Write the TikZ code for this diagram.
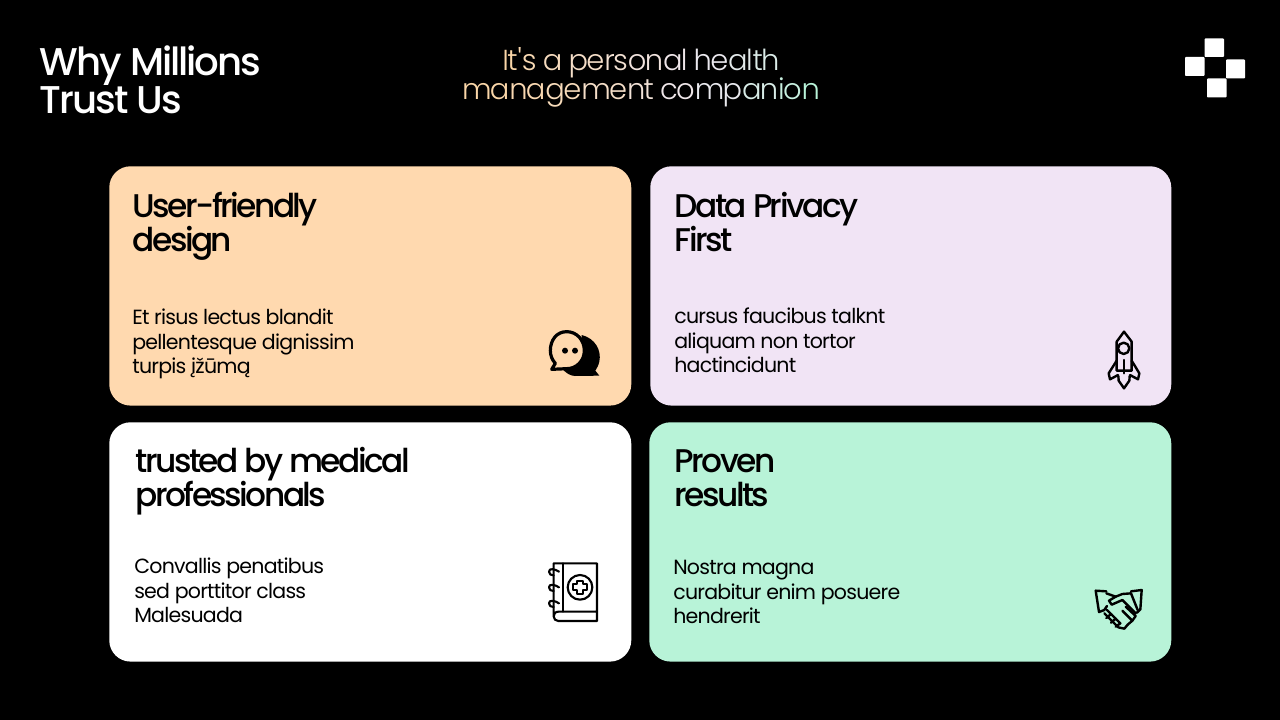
\documentclass[tikz,border=0pt]{standalone}
\usepackage{fontspec}
\setmainfont{Poppins}[LetterSpace=-3.7]
\newfontfamily\lightfont{Poppins Light}[LetterSpace=-6]
\newfontfamily\medfont{Poppins Medium}[LetterSpace=-7.8]
\newfontfamily\titlefont{Poppins Medium}[LetterSpace=-5.2]
\lineskiplimit=-30pt\relax
\normallineskiplimit=-30pt\relax
\definecolor{gtan}{HTML}{FAD6A8}
\definecolor{gmid}{HTML}{EEE8F0}
\definecolor{gmint}{HTML}{B8F3D9}
\definecolor{cardorange}{HTML}{FFD9AF}
\definecolor{cardlilac}{HTML}{F1E4F5}
\definecolor{cardmint}{HTML}{B8F3D8}
\newcommand{\ga}[2]{\textcolor{gmid!#1!gtan}{#2}}
\newcommand{\gb}[2]{\textcolor{gmint!#1!gmid}{#2}}
\tikzset{
  card/.style={draw=none,rounded corners=16,inner sep=0pt,anchor=north west},
  maintitle/.style={anchor=north west,inner sep=0pt,align=left,text=white,font=\titlefont\fontsize{29}{28.5}\selectfont},
  subtitle/.style={anchor=north,inner sep=0pt,align=center,font=\lightfont\fontsize{21.7}{21.9}\selectfont},
  cardhead/.style={anchor=north west,inner sep=0pt,align=left,text=black,font=\medfont\fontsize{24.6}{25.5}\selectfont},
  cardbody/.style={anchor=north west,inner sep=0pt,align=left,text=black,font=\fontsize{15.4}{18.5}\selectfont},
  icon/.style={draw=black,line width=1.8pt,line join=round,line cap=round},
  logopart/.style={fill=white,rounded corners=0.6}
}
\begin{document}
\begin{tikzpicture}[x=0.75pt,y=-0.75pt]
\useasboundingbox (0,0) rectangle (1280,720);
\fill[black] (0,0) rectangle (1280,720);
% cards
\node[card,fill=cardorange,minimum width=391.5pt,minimum height=179.5pt] (cardA) at (109,166) {};
\node[card,fill=cardlilac,minimum width=390.75pt,minimum height=179.5pt] (cardB) at (650,166) {};
\node[card,fill=white,minimum width=391.5pt,minimum height=179.5pt] (cardC) at (109,422) {};
\node[card,fill=cardmint,minimum width=391.5pt,minimum height=179.5pt] (cardD) at (649,422) {};
% titles
\node[maintitle] (title) at (39.5,45) {Why Millions\\Trust Us};
\node[subtitle] (sub) at (641,47.5) {\ga{0}{It}\ga{8}{'}\ga{15}{s} \ga{30}{a} \ga{45}{pe}\ga{60}{rs}\ga{75}{on}\ga{90}{al} \gb{5}{he}\gb{20}{al}\gb{35}{th}\\
\ga{0}{ma}\ga{12}{na}\ga{25}{ge}\ga{45}{me}\ga{65}{nt} \ga{90}{co}\gb{10}{mp}\gb{40}{an}\gb{70}{io}\gb{100}{n}};
% card text
\node[cardhead] (headA) at (132.5,192) {User-friendly\\design};
\node[cardbody] (bodyA) at (132,308.5) {Et risus lectus blandit\\pellentesque dignissim\\turpis įžūmą};
\node[cardhead] (headB) at (674.5,192) {Data Privacy\\First};
\node[cardbody] (bodyB) at (674,307.5) {cursus faucibus talknt\\aliquam non tortor\\hactincidunt};
\node[cardhead] (headC) at (135.5,447) {trusted by medical\\professionals};
\node[cardbody] (bodyC) at (134,557.5) {Convallis penatibus\\sed porttitor class\\Malesuada};
\node[cardhead] (headD) at (674.5,449) {Proven\\results};
\node[cardbody] (bodyD) at (673,560) {Nostra magna\\curabitur enim posuere\\hendrerit};
% logo
\fill[logopart] (1204.5,38.5) rectangle (1224,57);
\fill[logopart] (1185,57) rectangle (1204.5,76);
\fill[logopart] (1226,59.5) rectangle (1245,78.5);
\fill[logopart] (1207,78.5) rectangle (1226.5,97.5);
% chat icon
\begin{scope}[shift={(520,310)},x=0.25pt,y=-0.25pt]
\fill[black] (185,75) .. controls (225,85) and (245,120) .. (238,155) .. controls (235,168) and (230,175) .. (226,182) -- (238,197) -- (165,198) .. controls (150,197) and (140,190) .. (130,180) -- (180,150) -- cycle;
\fill[cardorange,draw=black,line width=2.4pt,line join=round] (140,65) .. controls (170,65) and (193,90) .. (193,122) .. controls (193,152) and (170,176) .. (140,176) -- (95,178) -- (106,160) .. controls (96,150) and (91,135) .. (91,122) .. controls (91,90) and (110,65) .. (140,65) -- cycle;
\fill[black] (135,122) circle (9);
\fill[black] (165,122) circle (9);
\end{scope}
% rocket icon
\begin{scope}[shift={(1090,320)},x=0.25pt,y=-0.25pt]
\draw[icon] (102,35) -- (125,65) -- (125,152) -- (80,152) -- (80,65) -- cycle;
\draw[icon] (101,85) circle (17);
\draw[icon] (80,122) -- (56,160) -- (60,178) -- (84,165);
\draw[icon] (125,122) -- (148,160) -- (144,178) -- (120,165);
\draw[icon] (102,120) -- (102,160);
\draw[icon] (85,168) -- (86,182) -- (102,205) -- (118,182) -- (119,168);
\end{scope}
% book icon
\begin{scope}[shift={(535,555)},x=0.25pt,y=-0.25pt,line width=1.6pt]
\tikzset{icon/.append style={line width=1.6pt}}
\draw[icon] (186,170) -- (70,170) .. controls (60,170) and (56,178) .. (56,184) .. controls (56,192) and (62,198) .. (70,198) -- (186,198) -- (186,25) -- (56,25) -- (56,184);
\draw[icon] (84,25) -- (84,170);
\draw[icon] (135,97) circle (37);
\draw[icon] (126,77) -- (144,77) -- (144,88) -- (155,88) -- (155,106) -- (144,106) -- (144,117) -- (126,117) -- (126,106) -- (115,106) -- (115,88) -- (126,88) -- cycle;
\foreach \ry in {50,97,145}{
\draw[icon] (72,\ry) .. controls (60,\ry-8) and (42,\ry-12) .. (42,\ry) .. controls (42,\ry+8) and (48,\ry+11) .. (56,\ry+11);
}
\end{scope}
% handshake icon
\begin{scope}[shift={(1085,580)},x=0.25pt,y=-0.25pt]
\draw[icon] (64,34) -- (32,32) -- (42,96) -- (58,90);
\draw[icon] (138,34) -- (170,30) -- (166,88) -- (156,98);
\draw[icon] (64,40) -- (92,50) -- (72,62) -- (80,74) -- (112,60) -- (152,100);
\draw[icon] (92,50) -- (112,42) -- (138,40);
\draw[icon] (58,90) -- (66,78);
\draw[icon] (138,40) -- (158,90);
\draw[icon] (58,100) -- (100,142) -- (118,146) -- (128,134);
\draw[icon] (66,90) -- (78,102) -- (64,114);
\draw[icon] (78,102) -- (92,116) -- (78,128);
\draw[icon] (92,116) -- (106,130) -- (92,140);
\draw[icon] (128,134) -- (142,122) -- (112,92);
\draw[icon] (142,122) -- (152,108) -- (122,80);
\end{scope}
\end{tikzpicture}
\end{document}
